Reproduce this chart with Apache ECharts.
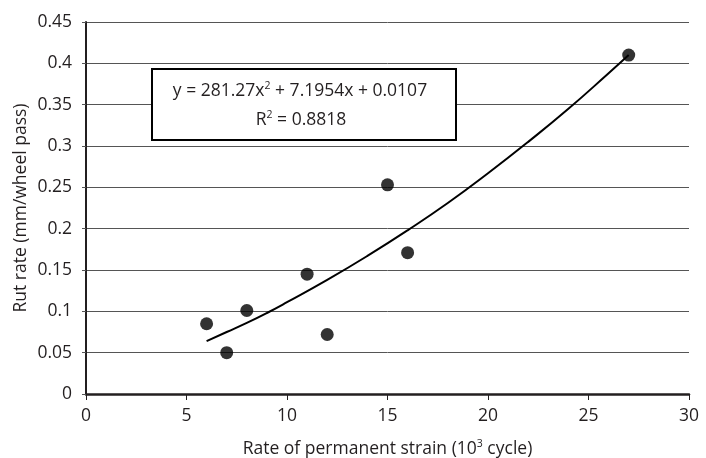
<!DOCTYPE html>
<html><head><meta charset="utf-8">
<script src="https://cdn.jsdelivr.net/npm/echarts@6/dist/echarts.min.js"></script>
<style>html,body{margin:0;padding:0;background:#fff}#c{width:706px;height:458px}</style>
</head><body><div id="c"></div>
<script>
// Measured points: rate of permanent strain (10^3 cycle) vs rut rate (mm/wheel pass)
const strainX = [6, 7, 8, 11, 12, 15, 16, 27];
const rutY = [0.085, 0.05, 0.101, 0.145, 0.072, 0.253, 0.171, 0.41];
// Trendline (polynomial fit curve)
const trendX = [6, 7, 8, 9, 10, 12, 14, 16, 18, 20, 22, 24, 26, 27];
const trendY = [0.064, 0.075, 0.086, 0.098, 0.111, 0.138, 0.167, 0.198, 0.231, 0.267, 0.305, 0.345, 0.388, 0.41];
const xTicks = [0, 5, 10, 15, 20, 25, 30];
const yTicks = [0, 0.05, 0.1, 0.15, 0.2, 0.25, 0.3, 0.35, 0.4, 0.45];
const eqLine = 'y = 281.27x{s|2} + 7.1954x + 0.0107';
const r2Line = 'R{s|2} = 0.8818';

const FONT = '"Open Sans", "Noto Sans", sans-serif';
const FS = 17.5;
const TXT = '#231f20';
const supRich = {s: {fontSize: 10.5, verticalAlign: 'top', padding: [0,0,9,0], color: TXT, fill: TXT, fontFamily: FONT}};

const chart = echarts.init(document.getElementById('c'), null, {renderer: 'canvas'});
chart.setOption({
  animation: false,
  backgroundColor: '#fff',
  grid: {left: 86, right: 17, top: 22, bottom: 64, containLabel: false, outerBoundsMode: 'none'},
  xAxis: {
    type: 'value', min: xTicks[0], max: xTicks[xTicks.length - 1], interval: 5,
    axisLine: {show: true, onZero: false, lineStyle: {color: TXT, width: 2.5}},
    axisTick: {show: true, inside: false, length: 6, lineStyle: {color: TXT, width: 1}},
    axisLabel: {color: TXT, fontFamily: FONT, fontSize: FS, margin: 13},
    splitLine: {show: false},
    name: 'Rate of permanent strain (10{s|3} cycle)',
    nameLocation: 'middle', nameGap: 45,
    nameTextStyle: {color: TXT, fontFamily: FONT, fontSize: FS, rich: supRich}
  },
  yAxis: {
    type: 'value', min: yTicks[0], max: yTicks[yTicks.length - 1], interval: 0.05,
    axisLine: {show: true, onZero: false, lineStyle: {color: TXT, width: 2}},
    axisTick: {show: true, inside: false, length: 4, lineStyle: {color: '#555', width: 1}},
    axisLabel: {color: TXT, fontFamily: FONT, fontSize: FS, margin: 14,
      formatter: v => String(+v.toFixed(2))},
    splitLine: {show: true, lineStyle: {color: '#555', width: 1}},
    name: 'Rut rate (mm/wheel pass)',
    nameLocation: 'middle', nameGap: 56, nameMoveOverlap: false,
    nameTextStyle: {color: TXT, fontFamily: FONT, fontSize: FS}
  },
  series: [
    {
      type: 'line', data: trendX.map((x, i) => [x, trendY[i]]),
      smooth: true, symbol: 'none',
      lineStyle: {color: '#000', width: 2}, z: 3
    },
    {
      type: 'scatter', data: strainX.map((x, i) => [x, rutY[i]]),
      symbol: 'circle', symbolSize: 13,
      itemStyle: {color: '#000'}, z: 4
    }
  ],
  graphic: [
    {
      type: 'rect', x: 152, y: 69, z: 10,
      shape: {x: 0, y: 0, width: 304, height: 71},
      style: {fill: '#fff', stroke: '#000', lineWidth: 2}
    },
    {
      type: 'text', x: 300, y: 91, z: 11,
      style: {text: eqLine, fill: TXT, font: FS + 'px ' + FONT, align: 'center', verticalAlign: 'middle', rich: supRich}
    },
    {
      type: 'text', x: 301, y: 120, z: 11,
      style: {text: r2Line, fill: TXT, font: FS + 'px ' + FONT, align: 'center', verticalAlign: 'middle', rich: supRich}
    }
  ]
});
</script>
</body></html>
